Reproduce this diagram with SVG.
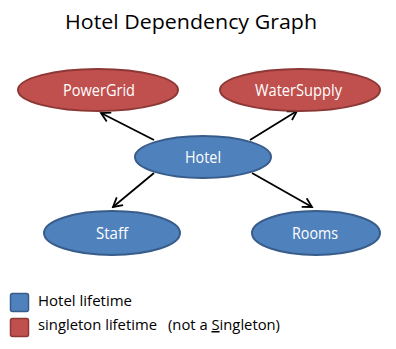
<svg xmlns="http://www.w3.org/2000/svg" width="396" height="349" viewBox="0 0 396 349">
<defs>
<marker id="arr" viewBox="0 0 12 12" refX="10" refY="6" markerWidth="12" markerHeight="12" markerUnits="userSpaceOnUse" orient="auto">
<path d="M1,1 L10,6 L1,11" fill="none" stroke="#000" stroke-width="1.8"/>
</marker>
</defs>
<style>
.blue{fill:#4F81BD;stroke:#385D8A;stroke-width:2}
.red{fill:#C0504D;stroke:#8C3836;stroke-width:2}
.lbl{font-family:"Open Sans","Liberation Sans",sans-serif;font-size:16.5px;fill:#fff;text-anchor:middle}
.txt{font-family:"Open Sans","Liberation Sans",sans-serif;font-size:15px;fill:#000}
.edge{stroke:#000;stroke-width:1.8;fill:none;marker-end:url(#arr)}
</style>
<rect width="396" height="349" fill="#fff"/>
<text x="191" y="29" font-family="'Open Sans','Liberation Sans',sans-serif" font-size="19.5" text-anchor="middle" textLength="252" lengthAdjust="spacingAndGlyphs">Hotel Dependency Graph</text>
<g id="connectors">
<line class="edge" x1="154" y1="140" x2="101" y2="113"/>
<line class="edge" x1="250" y1="140" x2="297" y2="111"/>
<line class="edge" x1="154" y1="173" x2="113" y2="207"/>
<line class="edge" x1="252" y1="173" x2="312" y2="207"/>
</g>
<g id="PowerGrid">
<ellipse class="red" cx="98" cy="90" rx="80" ry="21"/>
<text class="lbl" x="99" y="95.5" textLength="72" lengthAdjust="spacingAndGlyphs">PowerGrid</text>
</g>
<g id="WaterSupply">
<ellipse class="red" cx="300" cy="90" rx="80" ry="21"/>
<text class="lbl" x="298.5" y="95.5" textLength="87" lengthAdjust="spacingAndGlyphs">WaterSupply</text>
</g>
<g id="Hotel">
<ellipse class="blue" cx="203" cy="157" rx="68" ry="21"/>
<text class="lbl" x="203" y="163" textLength="36" lengthAdjust="spacingAndGlyphs">Hotel</text>
</g>
<g id="Staff">
<ellipse class="blue" cx="112" cy="233" rx="68" ry="22"/>
<text class="lbl" x="112" y="238.5" textLength="32" lengthAdjust="spacingAndGlyphs">Staff</text>
</g>
<g id="Rooms">
<ellipse class="blue" cx="316" cy="233" rx="64" ry="22"/>
<text class="lbl" x="315" y="238.5" textLength="46" lengthAdjust="spacingAndGlyphs">Rooms</text>
</g>
<g id="legend">
<rect x="10.5" y="293.5" width="18" height="18" rx="2" fill="#4F81BD" stroke="#385D8A" stroke-width="1.5"/>
<rect x="10.5" y="318.5" width="18" height="18" rx="2" fill="#C0504D" stroke="#8C3836" stroke-width="1.5"/>
<text class="txt" x="38" y="306" textLength="94" lengthAdjust="spacingAndGlyphs">Hotel lifetime</text>
<text class="txt" x="38" y="330" textLength="119" lengthAdjust="spacingAndGlyphs">singleton lifetime</text>
<text class="txt" x="168" y="330" textLength="112" lengthAdjust="spacingAndGlyphs">(not a <tspan text-decoration="underline">S</tspan>ingleton)</text>
</g>
</svg>
